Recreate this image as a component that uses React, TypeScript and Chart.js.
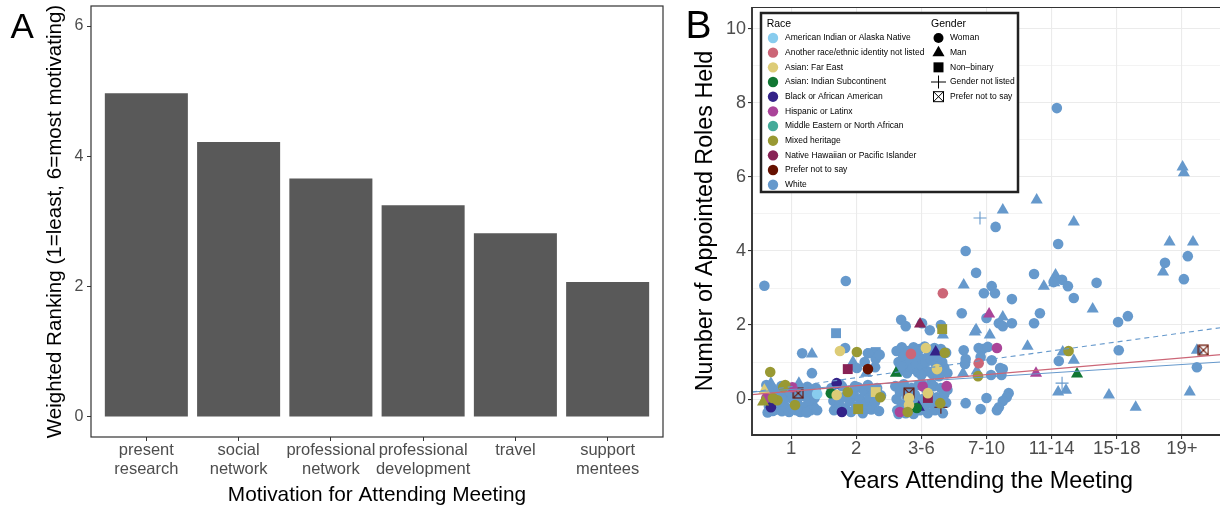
import React, { useEffect, useRef } from "react";
import { Chart, registerables } from "chart.js";
Chart.register(...registerables);

const FONT = "'Liberation Sans', Arial, Helvetica, sans-serif";

// ---------- Panel A data ----------
const motivationLabels: string[][] = [
  ["present", "research"],
  ["social", "network"],
  ["professional", "network"],
  ["professional", "development"],
  ["travel"],
  ["support", "mentees"],
];
const weightedRanking = [4.97, 4.22, 3.66, 3.25, 2.82, 2.07];
const rankingTicks = [0, 2, 4, 6];

// ---------- Panel B data ----------
const yearLabels = ["1", "2", "3-6", "7-10", "11-14", "15-18", "19+"];
const roleTicks = [0, 1, 2, 3, 4, 5, 6, 7, 8, 9, 10];
const raceNames = [
  "American Indian or Alaska Native",
  "Another race/ethnic identity not listed",
  "Asian: Far East",
  "Asian: Indian Subcontinent",
  "Black or African American",
  "Hispanic or Latinx",
  "Middle Eastern or North African",
  "Mixed heritage",
  "Native Hawaiian or Pacific Islander",
  "Prefer not to say",
  "White",
];
const raceColors = [
  "#88CCEE", "#CC6677", "#DDCC77", "#117733", "#332288", "#AA4499",
  "#44AA99", "#999933", "#882255", "#661100", "#6699CC",
];
const genderNames = ["Woman", "Man", "Non\u2013binary", "Gender not listed", "Prefer not to say"];

type Pt = [number, number];
// [jittered years category position, number of roles]
const whiteWoman: Pt[] = [
  [0.59, 3.06], [1.17, 1.24], [1.32, 0.7], [1.14, 0.16], [1.35, -0.22],
  [0.62, 0.38], [0.65, 0.12], [0.66, -0.2], [0.7, 0.3], [0.72, -0.32], [0.75, 0.05], [0.78, -0.28],
  [0.8, 0.22], [0.82, -0.1], [0.85, 0.35], [0.86, -0.33], [0.9, 0.1], [0.92, -0.22], [0.95, 0.28],
  [0.97, -0.35], [1.0, 0.02], [1.02, -0.25], [1.05, 0.3], [1.08, -0.3], [1.1, 0.0], [1.12, -0.18],
  [1.15, 0.25], [1.18, -0.32], [1.2, 0.08], [1.22, -0.2], [1.25, 0.33], [1.27, -0.05], [1.3, -0.3],
  [1.33, 0.15], [1.38, 0.3], [1.4, -0.3], [0.68, 0.0], [0.88, -0.05], [1.06, 0.15], [0.76, -0.1],
  [1.14, -0.35], [1.31, 0.2], [0.64, -0.36], [0.84, 0.05], [0.99, 0.18], [1.24, -0.36], [1.36, 0.02],
  [1.84, 3.19], [1.83, 1.38], [2.01, 0.84], [2.13, 1.0], [2.3, 1.08], [2.29, 0.86], [2.18, 1.24], [2.36, 1.2],
  [1.62, 0.3], [1.65, -0.05], [1.66, -0.3], [1.74, -0.15], [1.78, 0.35], [1.8, 0.05], [1.83, -0.25],
  [1.9, -0.05], [1.92, -0.35], [1.96, 0.15], [2.0, -0.2], [2.03, 0.32], [2.06, 0.0], [2.09, -0.3],
  [2.12, 0.22], [2.15, -0.12], [2.18, 0.38], [2.2, 0.05], [2.23, -0.28], [2.26, 0.18], [2.29, -0.08],
  [2.32, 0.3], [2.35, -0.32], [2.38, 0.1], [1.75, 0.4], [2.1, -0.38], [1.98, 0.35],
  [2.69, 2.14], [2.76, 1.97], [3.01, 2.05], [3.13, 1.86], [3.3, 2.0],
  [2.62, 1.3], [2.65, 1.0], [2.66, 0.75], [2.7, 1.4], [2.72, 1.15], [2.75, 0.9], [2.78, 0.7], [2.8, 1.3],
  [2.83, 1.05], [2.86, 0.82], [2.88, 1.4], [2.9, 1.2], [2.92, 0.95], [2.95, 0.72], [2.97, 1.35], [3.0, 1.1],
  [3.02, 0.88], [3.05, 1.42], [3.07, 1.0], [3.1, 0.75], [3.12, 1.25], [3.15, 1.05], [3.17, 0.68],
  [3.2, 1.38], [3.22, 0.95], [3.25, 1.15], [3.28, 0.78], [3.3, 1.35], [3.32, 1.0], [3.35, 0.85],
  [3.38, 1.25], [3.4, 0.7], [2.68, 0.88], [2.85, 1.25], [3.0, 0.65], [3.18, 1.3], [3.27, 0.62], [2.92, 1.3],
  [2.6, 0.35], [2.62, 0.0], [2.63, -0.3], [2.67, 0.2], [2.7, -0.15], [2.73, 0.4], [2.76, -0.38],
  [2.78, 0.05], [2.82, -0.2], [2.85, 0.3], [2.88, -0.4], [2.9, 0.12], [2.93, -0.1], [2.96, 0.38],
  [2.98, -0.3], [3.02, 0.0], [3.05, -0.2], [3.08, 0.25], [3.1, -0.38], [3.13, 0.1], [3.16, -0.12],
  [3.19, 0.35], [3.21, -0.3], [3.24, 0.05], [3.27, -0.22], [3.3, 0.3], [3.33, -0.38], [3.35, 0.12],
  [3.38, -0.1], [3.4, 0.25], [2.65, -0.4], [3.15, 0.42], [2.8, 0.2], [3.0, 0.42],
  [3.68, 4.0], [3.84, 3.41], [4.08, 3.05], [4.13, 2.86], [3.96, 2.86], [4.39, 2.7], [4.14, 4.65],
  [3.62, 2.32], [4.0, 2.19], [4.19, 2.05], [4.25, 1.97], [4.39, 2.05],
  [3.65, 1.32], [3.68, 1.08], [3.67, 0.95], [3.88, 1.38], [3.94, 1.35], [4.02, 1.41], [3.91, 1.14],
  [4.08, 1.05], [4.07, 0.65], [4.25, 0.81], [4.23, 0.65], [4.21, 0.84],
  [3.68, -0.11], [4.0, 0.03], [3.91, -0.27], [4.34, 0.16], [4.31, 0.05], [4.25, -0.05], [4.19, -0.22], [4.16, -0.3],
  [5.08, 7.86], [4.73, 3.38], [5.16, 3.22], [5.03, 3.16], [5.25, 3.05], [5.34, 2.73], [5.1, 4.19],
  [4.82, 2.32], [4.73, 2.05], [5.11, 1.03],
  [5.69, 3.14], [6.02, 2.08], [6.17, 2.24], [6.03, 1.32],
  [6.74, 3.68], [7.09, 3.86], [7.03, 3.24], [7.23, 0.86],
];
const whiteMan: Pt[] = [
  [1.32, 1.22], [1.12, 0.43], [0.69, 0.43], [1.95, 1.0], [2.15, 0.7], [1.94, 0.03], [3.33, 1.73],
  [3.65, 3.08], [4.25, 5.11], [4.25, 2.22], [3.82, 1.81], [3.84, 1.87], [4.05, 1.73], [3.64, 0.7], [3.85, 0.76],
  [4.77, 5.38], [5.34, 4.78], [4.88, 3.05], [5.06, 3.35], [5.04, 3.14], [4.63, 1.43], [5.17, 1.27],
  [5.34, 1.05], [5.1, 0.19], [5.22, 0.24],
  [5.63, 2.43], [5.88, 0.11], [6.29, -0.22],
  [7.01, 6.27], [7.03, 6.11], [6.81, 4.24], [7.17, 4.24], [6.71, 3.43], [7.23, 1.32], [7.12, 0.19],
];
const whiteNonBinary: Pt[] = [[1.69, 1.78], [2.23, 1.24], [2.3, 1.27]];
const whiteNotListed: Pt[] = [[3.9, 4.89], [5.16, 0.43]];
const mixedWoman: Pt[] = [
  [0.68, 0.73], [2.01, 1.27], [3.87, 0.62], [5.26, 1.3], [0.79, -0.03], [1.06, -0.16], [0.88, 0.32],
  [1.87, 0.19], [2.79, -0.35], [3.36, 1.25], [3.29, -0.11], [0.91, 0.38], [0.72, 0.03], [2.37, 0.05],
];
const mixedMan: Pt[] = [[0.57, -0.08]];
const mixedNonBinary: Pt[] = [[3.32, 1.89], [2.03, -0.27]];
const farEastWoman: Pt[] = [[1.75, 1.3], [3.07, 1.38], [3.24, 0.81], [1.7, 0.11], [3.1, 0.16], [2.81, 0.03], [2.81, -0.16]];
const farEastMan: Pt[] = [[0.59, 0.24]];
const farEastNonBinary: Pt[] = [[2.3, 0.19]];
const indianWoman: Pt[] = [[1.61, 0.16], [2.93, -0.24]];
const indianMan: Pt[] = [[2.61, 0.7], [5.39, 0.68]];
const blackWoman: Pt[] = [[1.7, 0.43], [1.78, -0.35], [0.69, -0.22]];
const blackMan: Pt[] = [[3.22, 1.27], [2.96, -0.22]];
const hispanicWoman: Pt[] = [[4.16, 1.38], [3.02, 0.35], [3.39, 0.35], [0.62, 0.03], [1.02, 0.32], [2.67, -0.35]];
const hispanicMan: Pt[] = [[4.04, 2.3], [4.76, 0.7]];
const anotherWoman: Pt[] = [[2.84, 1.22], [3.33, 2.86], [3.88, 0.97]];
const amIndianWoman: Pt[] = [[1.4, 0.14]];
const hawaiianMan: Pt[] = [[2.98, 2.03]];
const hawaiianNonBinary: Pt[] = [[1.87, 0.81], [3.1, 0.03]];
const preferRaceWoman: Pt[] = [[2.18, 0.81]];
const preferRaceNotListed: Pt[] = [[3.3, -0.22]];
const preferRacePreferGender: Pt[] = [[1.11, 0.16], [2.81, 0.16], [7.33, 1.32]];

// fitted trend lines (value at left and right ends of the axis)
const trendX = [0.4, 7.6];
const trendDashedBlue = [0.19, 1.93];
const trendRed = [0.12, 1.2];
const trendBlue = [0.19, 1.0];

// race index, gender index, points
const groups: { race: number; gender: number; pts: Pt[] }[] = [
  { race: 10, gender: 0, pts: whiteWoman },
  { race: 10, gender: 1, pts: whiteMan },
  { race: 10, gender: 2, pts: whiteNonBinary },
  { race: 10, gender: 3, pts: whiteNotListed },
  { race: 7, gender: 0, pts: mixedWoman },
  { race: 7, gender: 1, pts: mixedMan },
  { race: 7, gender: 2, pts: mixedNonBinary },
  { race: 2, gender: 0, pts: farEastWoman },
  { race: 2, gender: 1, pts: farEastMan },
  { race: 2, gender: 2, pts: farEastNonBinary },
  { race: 3, gender: 0, pts: indianWoman },
  { race: 3, gender: 1, pts: indianMan },
  { race: 4, gender: 0, pts: blackWoman },
  { race: 4, gender: 1, pts: blackMan },
  { race: 5, gender: 0, pts: hispanicWoman },
  { race: 5, gender: 1, pts: hispanicMan },
  { race: 1, gender: 0, pts: anotherWoman },
  { race: 0, gender: 0, pts: amIndianWoman },
  { race: 8, gender: 1, pts: hawaiianMan },
  { race: 8, gender: 2, pts: hawaiianNonBinary },
  { race: 9, gender: 0, pts: preferRaceWoman },
  { race: 9, gender: 3, pts: preferRaceNotListed },
  { race: 9, gender: 4, pts: preferRacePreferGender },
];

function makeXBox(color: string, size: number, lw: number) {
  const c = document.createElement("canvas");
  c.width = size;
  c.height = size;
  const g = c.getContext("2d")!;
  g.strokeStyle = color;
  g.lineWidth = lw;
  const p = lw / 2 + 0.5;
  g.strokeRect(p, p, size - 2 * p, size - 2 * p);
  g.beginPath();
  g.moveTo(p, p);
  g.lineTo(size - p, size - p);
  g.moveTo(size - p, p);
  g.lineTo(p, size - p);
  g.stroke();
  return c;
}

function drawShape(ctx: CanvasRenderingContext2D, gender: number, x: number, y: number, color: string) {
  ctx.fillStyle = color;
  ctx.strokeStyle = color;
  if (gender === 0) {
    ctx.beginPath();
    ctx.arc(x, y, 5, 0, Math.PI * 2);
    ctx.fill();
  } else if (gender === 1) {
    const r = 7;
    ctx.beginPath();
    ctx.moveTo(x, y - r);
    ctx.lineTo(x + r * 0.866, y + r / 2);
    ctx.lineTo(x - r * 0.866, y + r / 2);
    ctx.closePath();
    ctx.fill();
  } else if (gender === 2) {
    ctx.fillRect(x - 5, y - 5, 10, 10);
  } else if (gender === 3) {
    ctx.lineWidth = 1;
    ctx.beginPath();
    ctx.moveTo(x - 7.5, y);
    ctx.lineTo(x + 7.5, y);
    ctx.moveTo(x, y - 6.5);
    ctx.lineTo(x, y + 6.5);
    ctx.stroke();
  } else {
    ctx.lineWidth = 1;
    ctx.strokeRect(x - 5, y - 5, 10, 10);
    ctx.beginPath();
    ctx.moveTo(x - 5, y - 5);
    ctx.lineTo(x + 5, y + 5);
    ctx.moveTo(x + 5, y - 5);
    ctx.lineTo(x - 5, y + 5);
    ctx.stroke();
  }
}

const frameA = {
  id: "frameA",
  afterDraw(chart: any) {
    const { ctx, chartArea: a } = chart;
    ctx.save();
    ctx.strokeStyle = "#333333";
    ctx.lineWidth = 1.2;
    ctx.strokeRect(a.left, a.top, a.right - a.left, a.bottom - a.top);
    ctx.fillStyle = "#000";
    ctx.font = `35px ${FONT}`;
    ctx.textBaseline = "alphabetic";
    ctx.textAlign = "left";
    ctx.fillText("A", 10.5, 38.3);
    ctx.restore();
  },
};

const frameB = {
  id: "frameB",
  afterDraw(chart: any) {
    const { ctx, chartArea: a } = chart;
    ctx.save();
    ctx.strokeStyle = "#333333";
    ctx.lineWidth = 1;
    ctx.strokeRect(a.left, a.top + 0.5, a.right - a.left, a.bottom - a.top);
    ctx.lineWidth = 1.8;
    ctx.beginPath();
    ctx.moveTo(a.left, a.top);
    ctx.lineTo(a.left, a.bottom);
    ctx.lineTo(a.right, a.bottom);
    ctx.stroke();
    // panel letter
    ctx.fillStyle = "#000";
    ctx.font = `39px ${FONT}`;
    ctx.textBaseline = "alphabetic";
    ctx.textAlign = "left";
    ctx.fillText("B", 15.5, 38.3);
    // legend
    const bx = 91, by = 13, bw = 257, bh = 179;
    ctx.fillStyle = "#ffffff";
    ctx.fillRect(bx, by, bw, bh);
    ctx.lineWidth = 2.5;
    ctx.strokeStyle = "#222222";
    ctx.strokeRect(bx, by, bw, bh);
    ctx.fillStyle = "#000";
    ctx.textBaseline = "middle";
    ctx.font = `10.5px ${FONT}`;
    ctx.fillText("Race", 96.7, 24.5);
    ctx.fillText("Gender", 261, 24.5);
    ctx.font = `8.5px ${FONT}`;
    raceNames.forEach((name, i) => {
      const y = 38 + i * 14.67;
      ctx.fillStyle = raceColors[i];
      ctx.beginPath();
      ctx.arc(103, y, 5.2, 0, Math.PI * 2);
      ctx.fill();
      ctx.fillStyle = "#000";
      ctx.fillText(name, 115, y);
    });
    genderNames.forEach((name, i) => {
      const y = 38 + i * 14.67;
      drawShape(ctx, i, 268.5, y, "#000");
      ctx.fillStyle = "#000";
      ctx.fillText(name, 280, y);
    });
    ctx.restore();
  },
};

const zeroPad = (s: any) => {
  s.paddingTop = 0;
  s.paddingBottom = 0;
  s.paddingLeft = 0;
  s.paddingRight = 0;
};

export default function App() {
  const refA = useRef<HTMLCanvasElement>(null);
  const refB = useRef<HTMLCanvasElement>(null);

  useEffect(() => {
    const tickFont = { family: FONT, size: 16.5, lineHeight: 1.11 };
    const chartA = new Chart(refA.current!, {
      type: "bar",
      data: {
        datasets: [
          {
            data: weightedRanking.map((v, i) => ({ x: i + 1, y: v })),
            backgroundColor: "#595959",
            borderWidth: 0,
            barPercentage: 0.9,
            categoryPercentage: 1,
          } as any,
        ],
      },
      options: {
        responsive: false,
        animation: false,
        events: [],
        layout: { autoPadding: false, padding: { left: 0, right: 7, top: 6, bottom: 0 } },
        plugins: { legend: { display: false }, tooltip: { enabled: false } },
        scales: {
          x: {
            type: "linear",
            min: 0.4,
            max: 6.6,
            offset: false,
            afterBuildTicks: (s: any) => {
              s.ticks = motivationLabels.map((_, i) => ({ value: i + 1 }));
            },
            afterFit: (s: any) => {
              s.height = 73;
              zeroPad(s);
            },
            ticks: {
              callback: (v: any) => motivationLabels[Math.round(Number(v)) - 1],
              font: tickFont,
              color: "#4D4D4D",
              padding: 0.5,
              maxRotation: 0,
              autoSkip: false,
            },
            grid: { display: true, offset: false, drawOnChartArea: false, tickLength: 4, tickColor: "#333333", lineWidth: 1 },
            border: { display: false },
            title: {
              display: true,
              text: "Motivation for Attending Meeting",
              color: "#000",
              font: { family: FONT, size: 20.8, lineHeight: 1.2 },
              padding: { top: 0, bottom: 2.5 },
            },
          },
          y: {
            type: "linear",
            min: -0.307,
            max: 6.307,
            afterBuildTicks: (s: any) => {
              s.ticks = rankingTicks.map((v) => ({ value: v }));
            },
            afterFit: (s: any) => {
              s.width = 91;
              zeroPad(s);
            },
            ticks: { font: { family: FONT, size: 16 }, color: "#4D4D4D", padding: 3.5 },
            grid: { display: true, drawOnChartArea: false, tickLength: 4, tickColor: "#333333", lineWidth: 1 },
            border: { display: false },
            title: {
              display: true,
              text: "Weighted Ranking (1=least, 6=most motivating)",
              color: "#000",
              font: { family: FONT, size: 20.6, lineHeight: 1.2 },
              padding: { top: 42.8, bottom: 0 },
            },
          },
        },
      } as any,
      plugins: [frameA],
    });

    const xbox = makeXBox(raceColors[9], 12, 1.2);
    const genderStyle: any[] = ["circle", "triangle", "rect", "cross", xbox];
    const genderRadius = [5.3, 7, 7, 6.5, 6];

    const pointSets = groups.map((g) => ({
      type: "scatter",
      data: g.pts.map(([x, y]) => ({ x, y })),
      pointStyle: genderStyle[g.gender],
      pointRadius: genderRadius[g.gender],
      pointBackgroundColor: raceColors[g.race],
      pointBorderColor: raceColors[g.race],
      pointBorderWidth: g.gender === 3 ? 1.1 : 0,
      showLine: false,
      order: g.race === 10 ? 2 : 1,
    }));
    const trend = (ys: number[], color: string, dash: number[]) => ({
      type: "scatter",
      data: trendX.map((x, i) => ({ x, y: ys[i] })),
      showLine: true,
      borderColor: color,
      borderWidth: 1.1,
      borderDash: dash,
      pointRadius: 0,
      fill: false,
      order: 0,
    });

    const chartB = new Chart(refB.current!, {
      type: "scatter",
      data: {
        datasets: [
          ...pointSets,
          trend(trendDashedBlue, "#6699CC", [5, 4]),
          trend(trendRed, "#CC6677", []),
          trend(trendBlue, "#6699CC", []),
        ] as any,
      },
      options: {
        responsive: false,
        animation: false,
        events: [],
        layout: { autoPadding: false, padding: { left: 0, right: 1, top: 7, bottom: 0 } },
        plugins: { legend: { display: false }, tooltip: { enabled: false } },
        scales: {
          x: {
            type: "linear",
            min: 0.4,
            max: 7.6,
            afterBuildTicks: (s: any) => {
              s.ticks = yearLabels.map((_, i) => ({ value: i + 1 }));
            },
            afterFit: (s: any) => {
              s.height = 75;
              zeroPad(s);
            },
            ticks: {
              callback: (v: any) => yearLabels[Math.round(Number(v)) - 1],
              font: { family: FONT, size: 18.5 },
              color: "#4D4D4D",
              padding: -1,
              maxRotation: 0,
              autoSkip: false,
            },
            grid: { color: "#EBEBEB", lineWidth: 1.1, tickLength: 4, tickColor: "#333333" },
            border: { display: false },
            title: {
              display: true,
              text: "Years Attending the Meeting",
              color: "#000",
              font: { family: FONT, size: 23.4, lineHeight: 1.2 },
              padding: { top: 0, bottom: 14.4 },
            },
          },
          y: {
            type: "linear",
            min: -0.97,
            max: 10.59,
            afterBuildTicks: (s: any) => {
              s.ticks = roleTicks.map((v) => ({ value: v }));
            },
            afterFit: (s: any) => {
              s.width = 82;
              zeroPad(s);
            },
            ticks: {
              callback: (v: any) => (Math.round(Number(v)) % 2 === 0 ? String(v) : ""),
              font: { family: FONT, size: 18 },
              color: "#4D4D4D",
              padding: 2,
            },
            grid: {
              color: "#EBEBEB",
              lineWidth: (c: any) => (c.tick && Math.round(c.tick.value) % 2 === 0 ? 1.1 : 0.6),
              tickLength: 4,
              tickColor: (c: any) => (c.tick && Math.round(c.tick.value) % 2 === 0 ? "#333333" : "rgba(0,0,0,0)"),
            },
            border: { display: false },
            title: {
              display: true,
              text: "Number of Appointed Roles Held",
              color: "#000",
              font: { family: FONT, size: 23.3, lineHeight: 1.2 },
              padding: { top: 22, bottom: 0 },
            },
          },
        },
      } as any,
      plugins: [frameB],
    });

    return () => {
      chartA.destroy();
      chartB.destroy();
    };
  }, []);

  return (
    <div
      style={{
        position: "fixed",
        left: 0,
        top: 0,
        width: 1220,
        height: 510,
        overflow: "hidden",
        background: "#ffffff",
      }}
    >
      <canvas ref={refA} width={670} height={510} style={{ position: "absolute", left: 0, top: 0 }} />
      <canvas ref={refB} width={552} height={510} style={{ position: "absolute", left: 670, top: 0 }} />
    </div>
  );
}
